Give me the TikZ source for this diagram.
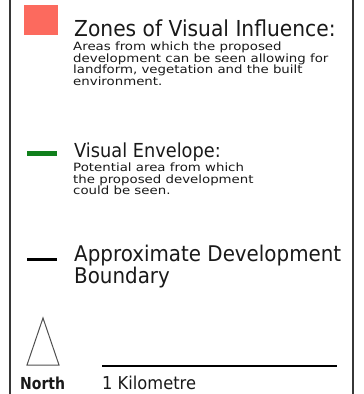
\documentclass[tikz,border=0pt]{standalone}
\usepackage{fontspec}
\setmainfont{DejaVu Sans}
\newfontfamily\ttlfont[FakeStretch=0.92]{DejaVu Sans}
\newfontfamily\bdyfont[FakeStretch=1.17]{DejaVu Sans}
\newfontfamily\nthfont[FakeStretch=0.85]{DejaVu Sans}
\definecolor{zvired}{RGB}{252,106,94}
\definecolor{vegreen}{RGB}{16,128,28}
\definecolor{framegray}{RGB}{55,55,55}
\definecolor{txt}{RGB}{25,25,25}
\tikzset{
  title/.style={anchor=base west, inner sep=0pt, text=txt, font=\ttlfont\fontsize{#1}{#1}\selectfont},
  body/.style={anchor=base west, inner sep=0pt, text=txt, font=\bdyfont\fontsize{11.4}{11.4}\selectfont},
  frameline/.style={draw=framegray, line width=2pt},
  keybar/.style={line width=#1, line cap=butt}
}
\begin{document}
\begin{tikzpicture}[x=1pt,y=-1pt]
\useasboundingbox (0,0) rectangle (364,394);
\fill[white] (0,0) rectangle (364,394);
% frame
\draw[frameline] (10,0) -- (10,394);
\draw[frameline] (352.5,0) -- (352.5,394);
% Zones of visual influence
\fill[zvired] (24,5) rectangle (58,35);
\node[title=22] (t1) at (74,36) {Zones of Visual Influence:};
\node[body] (b11) at (73,50.7) {Areas from which the proposed};
\node[body] (b12) at (73,62.2) {development can be seen allowing for};
\node[body] (b13) at (73,73.7) {landform, vegetation and the built};
\node[body] (b14) at (73,85.2) {environment.};
% Visual envelope
\draw[vegreen, keybar=5pt] (27,153.5) -- (57,153.5);
\node[title=19.3] (t2) at (74,157.5) {Visual Envelope:};
\node[body] (b21) at (73,171.7) {Potential area from which};
\node[body] (b22) at (73,183.3) {the proposed development};
\node[body] (b23) at (73,194.9) {could be seen.};
% Boundary
\draw[black, keybar=3pt] (27,259.7) -- (57,259.7);
\node[title=21.6] (t3) at (74,261.7) {Approximate Development};
\node[title=21.6] (t4) at (74,283.5) {Boundary};
% North arrow
\draw[draw={rgb,255:red,80;green,80;blue,80}, line width=1pt, line join=miter] (43,318) -- (27,365) -- (59,365) -- cycle;
\node[anchor=base west, inner sep=0pt, text=txt, font=\nthfont\bfseries\fontsize{16.5}{16.5}\selectfont] (north) at (20,389.3) {North};
% scale bar
\coordinate (s1) at (102,366);
\coordinate (s2) at (337,366);
\draw[black, line width=1.8pt] (s1) -- (s2);
\node[title=17.7] (km) at (102,389.3) {1 Kilometre};
\end{tikzpicture}
\end{document}
